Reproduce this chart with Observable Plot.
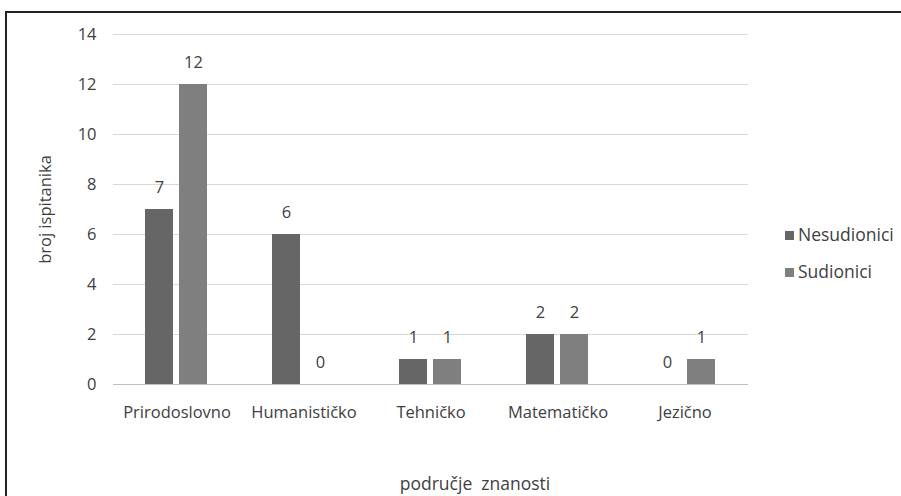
<!DOCTYPE html>
<html>
<head>
<meta charset="utf-8">
<script src="https://cdn.jsdelivr.net/npm/d3@7"></script>
<script src="https://cdn.jsdelivr.net/npm/@observablehq/plot@0.6"></script>
<style>
  html, body { margin: 0; padding: 0; background: #fff; }
  #wrap { position: relative; width: 901px; height: 496px; overflow: hidden; font-family: "Open Sans", sans-serif; }
  #frame { position: absolute; left: 5px; top: 11px; width: 900px; height: 490px; border-left: 2px solid #222; border-top: 2px solid #222; box-sizing: border-box; pointer-events: none; }
  #chart { position: absolute; left: 0; top: 0; }
  #chart svg text { font-size: 16.5px; }
  .legend { position: absolute; left: 785px; font-size: 17.5px; color: #404040; line-height: 1; white-space: nowrap; }
  .legend span.sw { display: inline-block; width: 9px; height: 9px; margin-right: 4px; vertical-align: 1px; }
  #xtitle { position: absolute; left: 0; width: 950px; top: 471px; text-align: center; font-size: 17.5px; color: #404040; white-space: pre; }
</style>
</head>
<body>
<div id="wrap">
  <div id="chart"></div>
  <div id="frame"></div>
  <div id="legend"></div>
  <div id="xtitle"></div>
</div>
<script>
const categories = ["Prirodoslovno", "Humanističko", "Tehničko", "Matematičko", "Jezično"];
const seriesNames = ["Nesudionici", "Sudionici"];
const nesudionici = [7, 6, 1, 2, 0];
const sudionici = [12, 0, 1, 2, 1];
const seriesColors = ["#666666", "#7f7f7f"];
const yTicks = [0, 2, 4, 6, 8, 10, 12, 14];
const yLabel = "broj ispitanika";
const xLabel = "područje  znanosti";

const data = [];
categories.forEach((c, i) => {
  data.push({category: c, series: seriesNames[0], value: nesudionici[i]});
  data.push({category: c, series: seriesNames[1], value: sudionici[i]});
});

const chart = Plot.plot({
  width: 901,
  height: 496,
  marginLeft: 112,
  marginRight: 153,
  marginTop: 34,
  marginBottom: 112,
  style: {fontFamily: "Open Sans, sans-serif", fontSize: "16.5px", color: "#404040", background: "transparent"},
  fx: {domain: categories, padding: 0, label: null, tickSize: 0, tickPadding: 22},
  x: {domain: seriesNames, paddingInner: 0.17, paddingOuter: 0.9, axis: null},
  y: {domain: [0, 14], ticks: yTicks, tickSize: 0, tickPadding: 17, label: yLabel, labelAnchor: "center", labelOffset: 74, labelArrow: "none"},
  color: {domain: seriesNames, range: seriesColors},
  marks: [
    Plot.ruleY(yTicks.filter(d => d > 0), {stroke: "#d9d9d9", strokeWidth: 1}),
    Plot.ruleY([0], {stroke: "#bfbfbf", strokeWidth: 1.2}),
    Plot.barY(data, {fx: "category", x: "series", y: "value", fill: "series"}),
    Plot.text(data, {fx: "category", x: "series", y: "value", text: d => String(d.value), dy: -22, fill: "#404040"})
  ]
});
document.getElementById("chart").appendChild(chart);

const legend = document.getElementById("legend");
seriesNames.forEach((s, i) => {
  const el = document.createElement("div");
  el.className = "legend";
  el.style.top = (226 + i * 37) + "px";
  el.innerHTML = `<span class="sw" style="background:${seriesColors[i]}"></span>${s}`;
  legend.appendChild(el);
});
document.getElementById("xtitle").textContent = xLabel;
</script>
</body>
</html>
